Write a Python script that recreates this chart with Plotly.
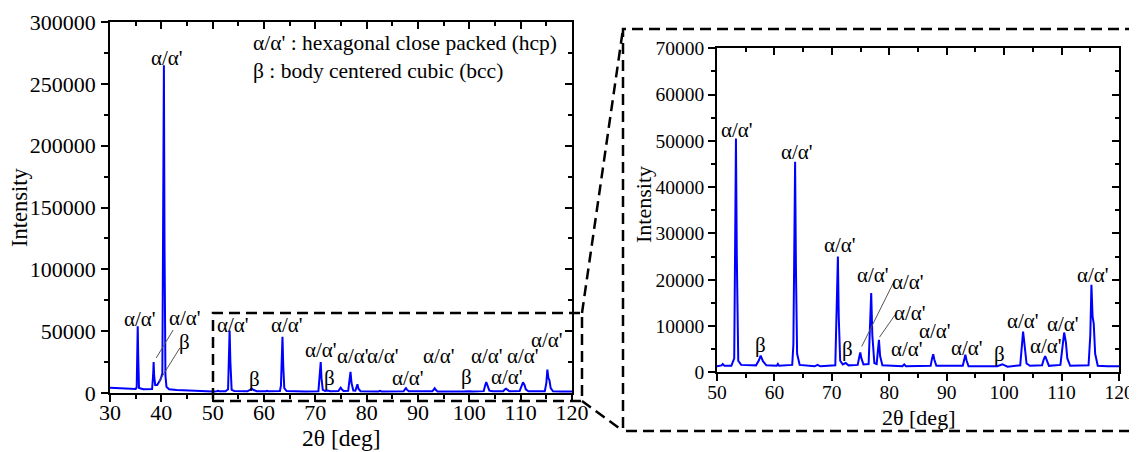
import plotly.graph_objects as go

# ---------------- data ----------------
two_theta = [30.0, 31.0, 32.0, 33.0, 34.0, 35.0, 35.2, 35.32, 35.4, 35.5, 35.65, 36.5, 37.5,
             38.2, 38.4, 38.5, 38.6, 38.8, 39.2, 39.6, 39.9, 40.2, 40.35, 40.5, 40.62, 40.8,
             41.0, 41.5, 43.0, 45.0, 47.0, 49.0, 50.0, 50.8, 51.0, 51.3, 52.5, 53.0, 53.15,
             53.3, 53.45, 53.7, 54.2, 56.8, 57.3, 57.6, 58.0, 58.6, 60.4, 60.6, 60.8, 63.1,
             63.3, 63.45, 63.6, 63.75, 63.95, 64.4, 67.0, 67.5, 68.0, 70.6, 70.85, 71.05,
             71.2, 71.45, 71.9, 72.4, 72.9, 74.5, 74.8, 74.95, 75.15, 75.5, 76.4, 76.65,
             76.85, 77.05, 77.4, 77.8, 78.0, 78.2, 78.4, 78.8, 82.3, 82.6, 82.9, 87.2,
             87.45, 87.65, 87.85, 88.2, 92.8, 93.05, 93.25, 93.45, 93.8, 98.8, 99.3, 99.7,
             100.1, 100.6, 102.8, 103.1, 103.3, 103.55, 103.9, 104.5, 106.6, 106.9, 107.15,
             107.4, 107.8, 109.8, 110.15, 110.45, 110.75, 111.0, 111.5, 114.7, 115.0,
             115.2, 115.4, 115.6, 115.85, 116.3, 118.0, 120.0]
intensity = [4200, 4000, 3800, 3600, 3400, 3300, 4500, 30000, 54000, 30000, 4000, 3000, 2900,
             3200, 14000, 25000, 14000, 6500, 6500, 9000, 11500, 16000, 120000, 265000, 120000,
             14000, 5000, 3000, 2400, 2000, 1700, 1500, 1300, 1500, 1800, 1400, 1400, 3000,
             25000, 50500, 25000, 2500, 1600, 1500, 2600, 3600, 2400, 1500, 1400, 1800, 1400,
             1600, 6000, 25000, 45500, 22000, 4000, 1600, 1300, 1600, 1300, 1500, 12000, 25000,
             12000, 2500, 1700, 2000, 1500, 1600, 3500, 4300, 3000, 1700, 1800, 8500,
             17100, 8000, 2000, 1800, 4500, 7000, 3500, 1500, 1300, 1700, 1300, 1400,
             3000, 3900, 2700, 1400, 1400, 2900, 3800, 2600, 1300, 1300, 1600, 1700,
             1500, 1200, 1500, 6500, 8800, 6000, 1900, 1400, 1500, 2800, 3500,
             2700, 1400, 1600, 6000, 8600, 6500, 3000, 1400, 1500, 8000,
             18900, 12000, 10500, 4000, 1400, 1300, 1300]

phase_labels_left = ["α/α'", "α/α'", "α/α'", "β", "α/α'", "β", "α/α'", "α/α'", "β", "α/α'",
                     "α/α'", "α/α'", "α/α'", "β", "α/α'", "α/α'", "α/α'", "α/α'"]
label_x_left = [41.1, 35.8, 44.6, 44.6, 54.0, 58.2, 64.4, 71.2, 72.7, 77.4,
                83.1, 88.1, 94.0, 99.5, 103.5, 107.3, 110.5, 115.1]
label_y_left = [270900, 59800, 60600, 41200, 55000, 11000, 55000, 34800, 11900, 29900,
                29900, 11900, 29900, 13200, 29900, 13200, 29900, 42900]

phase_labels_right = ["α/α'", "β", "α/α'", "α/α'", "β", "α/α'", "α/α'", "α/α'", "α/α'",
                      "α/α'", "α/α'", "β", "α/α'", "α/α'", "α/α'", "α/α'"]
label_x_right = [53.4, 57.6, 63.9, 71.4, 72.7, 77.2, 83.3, 83.6, 83.0,
                 88.0, 93.5, 99.2, 103.3, 107.3, 110.2, 115.4]
label_y_right = [52400, 5940, 47500, 27540, 5080, 21000, 19600, 12790, 5000,
                 8960, 5230, 4000, 11000, 5580, 10480, 21060]

# leader lines (x0, y0, x1, y1) in data units
leaders_left = [(39.0, 28300, 42.3, 50900), (39.5, 8900, 43.6, 36400)]
leaders_right = [(75.2, 5580, 80.8, 19550), (78.3, 7600, 81.0, 12400)]

legend_lines = ["α/α' : hexagonal close packed (hcp)", "β : body centered cubic (bcc)"]

x_ticks = [30, 40, 50, 60, 70, 80, 90, 100, 110, 120]
x_ticks_zoom = [50, 60, 70, 80, 90, 100, 110, 120]

# ---------------- figure ----------------
PAGE_W, PAGE_H = 1137, 452
OFF = 8  # default page body margin
W, H = PAGE_W - OFF, PAGE_H - OFF
FONT = "Times New Roman, Liberation Serif, serif"


def px(x):
    return (x - OFF) / W


def py(y):
    return 1 - (y - OFF) / H


left_dom_x = [px(110), px(572)]
left_dom_y = [py(393), py(22)]
right_dom_x = [px(717), px(1119)]
right_dom_y = [py(372.3), py(48.3)]

fig = go.Figure()
fig.add_trace(go.Scatter(x=two_theta, y=intensity, mode="lines",
                         line=dict(color="#0000ff", width=2), xaxis="x", yaxis="y",
                         showlegend=False, hoverinfo="skip"))
fig.add_trace(go.Scatter(x=two_theta, y=intensity, mode="lines",
                         line=dict(color="#0000ff", width=2), xaxis="x2", yaxis="y2",
                         showlegend=False, hoverinfo="skip"))
fig.add_trace(go.Scatter(x=[], y=[], xaxis="x3", yaxis="y3", showlegend=False))
fig.add_trace(go.Scatter(x=[], y=[], xaxis="x4", yaxis="y4", showlegend=False))

axis_common = dict(showline=True, linecolor="black", linewidth=1.5, showgrid=False,
                   zeroline=False, tickcolor="black", tickwidth=1.5, ticklen=7,
                   color="black", automargin=False)


def minor(kind, dt):
    return dict(ticks=kind, ticklen=4, dtick=dt, tick0=0, tickcolor="black", tickwidth=1.5)


fig.update_layout(
    width=W, height=H, margin=dict(l=0, r=0, t=0, b=0, autoexpand=False),
    paper_bgcolor="white", plot_bgcolor="rgba(0,0,0,0)",
    font=dict(family=FONT, color="black"),
    xaxis=dict(domain=left_dom_x, anchor="y", range=[30, 120], tickvals=x_ticks,
               ticks="outside", tickfont=dict(size=22, family=FONT), ticklabelstandoff=-8,
               minor=minor("outside", 5), **axis_common),
    yaxis=dict(domain=left_dom_y, anchor="x", range=[0, 300000], dtick=50000, tickformat="d",
               ticks="outside", tickfont=dict(size=22, family=FONT), ticklabelstandoff=1,
               minor=minor("outside", 25000), **axis_common),
    xaxis3=dict(overlaying="x", side="top", anchor="y3", range=[30, 120], tickvals=x_ticks,
                ticks="inside", showticklabels=False, minor=minor("inside", 5), **axis_common),
    yaxis3=dict(overlaying="y", side="right", anchor="x3", range=[0, 300000], dtick=50000,
                ticks="inside", showticklabels=False, minor=minor("inside", 25000), **axis_common),
    xaxis2=dict(domain=right_dom_x, anchor="y2", range=[50, 120], tickvals=x_ticks_zoom,
                ticks="outside", tickfont=dict(size=19.5, family=FONT), ticklabelstandoff=-5,
                minor=minor("outside", 5), **axis_common),
    yaxis2=dict(domain=right_dom_y, anchor="x2", range=[0, 70000], dtick=10000, tickformat="d",
                ticks="outside", tickfont=dict(size=19.5, family=FONT),
                minor=minor("outside", 5000), **axis_common),
    xaxis4=dict(overlaying="x2", side="top", anchor="y4", range=[50, 120], tickvals=x_ticks_zoom,
                ticks="inside", showticklabels=False, minor=minor("inside", 5), **axis_common),
    yaxis4=dict(overlaying="y2", side="right", anchor="x4", range=[0, 70000], dtick=10000,
                ticks="inside", showticklabels=False, minor=minor("inside", 5000), **axis_common),
)

annotations = []
for t, x, y in zip(phase_labels_left, label_x_left, label_y_left):
    annotations.append(dict(text=t, x=x, y=y, xref="x", yref="y", showarrow=False,
                            font=dict(size=21, family=FONT, color="black"),
                            xanchor="center", yanchor="middle"))
for t, x, y in zip(phase_labels_right, label_x_right, label_y_right):
    annotations.append(dict(text=t, x=x, y=y, xref="x2", yref="y2", showarrow=False,
                            font=dict(size=21, family=FONT, color="black"),
                            xanchor="center", yanchor="middle"))
# legend text
for i, line in enumerate(legend_lines):
    annotations.append(dict(text=line, x=px(251), y=py(43 + 28 * i), xref="paper", yref="paper",
                            showarrow=False, xanchor="left", yanchor="middle",
                            font=dict(size=21.5, family=FONT, color="black")))
# axis titles
annotations += [
    dict(text="Intensity", x=px(19), y=py(208), xref="paper", yref="paper", showarrow=False,
         textangle=-90, xanchor="center", yanchor="middle", font=dict(size=22.5, family=FONT)),
    dict(text="2θ [deg]", x=px(341), y=py(438), xref="paper", yref="paper", showarrow=False,
         xanchor="center", yanchor="middle", font=dict(size=23.5, family=FONT)),
    dict(text="Intensity", x=px(643), y=py(205), xref="paper", yref="paper", showarrow=False,
         textangle=-90, xanchor="center", yanchor="middle", font=dict(size=22, family=FONT)),
    dict(text="2θ [deg]", x=px(918), y=py(417), xref="paper", yref="paper", showarrow=False,
         xanchor="center", yanchor="middle", font=dict(size=22, family=FONT)),
]
fig.update_layout(annotations=annotations)

shapes = []
for (x0, y0, x1, y1) in leaders_left:
    shapes.append(dict(type="line", xref="x", yref="y", x0=x0, y0=y0, x1=x1, y1=y1,
                       line=dict(color="#555555", width=1)))
for (x0, y0, x1, y1) in leaders_right:
    shapes.append(dict(type="line", xref="x2", yref="y2", x0=x0, y0=y0, x1=x1, y1=y1,
                       line=dict(color="#555555", width=1)))

dash_line = dict(color="black", width=2.5, dash="11px,6px")
# small zoom box on the left panel
shapes.append(dict(type="rect", xref="paper", yref="paper", x0=px(213), x1=px(582),
                   y0=py(401), y1=py(313), line=dash_line))
# big frame around the zoomed panel
shapes.append(dict(type="path", xref="paper", yref="paper",
                   path=f"M {px(1136)} {py(29)} L {px(623)} {py(29)} L {px(623)} {py(431)} L {px(1136)} {py(431)}",
                   line=dash_line))
# connector lines
shapes.append(dict(type="line", xref="paper", yref="paper", x0=px(582), y0=py(313),
                   x1=px(623), y1=py(29), line=dash_line))
shapes.append(dict(type="line", xref="paper", yref="paper", x0=px(582), y0=py(401),
                   x1=px(623), y1=py(431), line=dash_line))
fig.update_layout(shapes=shapes)

fig.write_html("out.html")
